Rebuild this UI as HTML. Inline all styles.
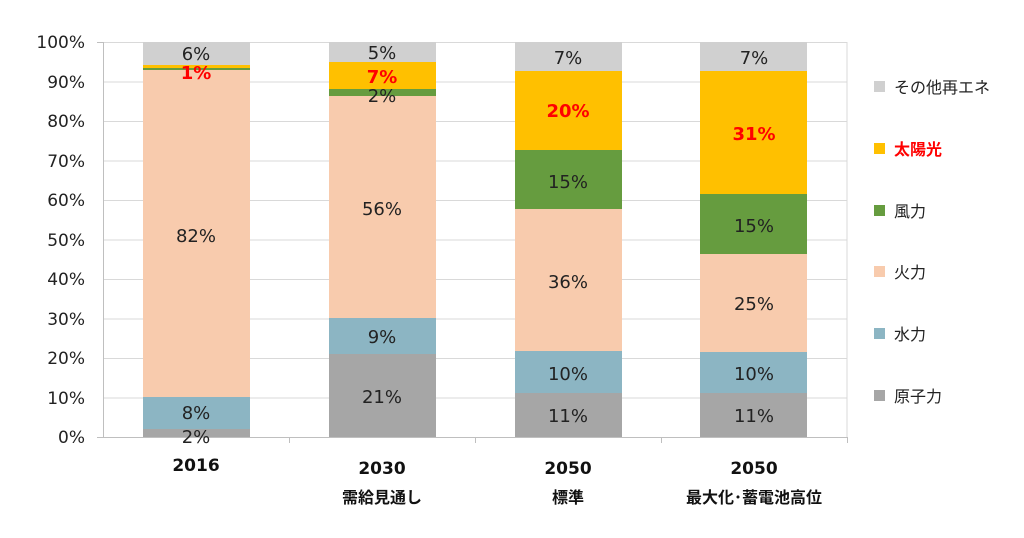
<!DOCTYPE html>
<html><head><meta charset="utf-8"><style>
body{margin:0;background:#fff;}
svg text{font-family:"DejaVu Sans","Liberation Sans","Noto Sans CJK JP",sans-serif;}
</style></head><body>
<svg width="1024" height="533" viewBox="0 0 1024 533" xmlns="http://www.w3.org/2000/svg">
<g stroke="#d9d9d9" stroke-width="1">
<line x1="103" y1="42.5" x2="847" y2="42.5"/><line x1="103" y1="82" x2="847" y2="82"/>
<line x1="103" y1="121.5" x2="847" y2="121.5"/><line x1="103" y1="161" x2="847" y2="161"/>
<line x1="103" y1="200.5" x2="847" y2="200.5"/><line x1="103" y1="240" x2="847" y2="240"/>
<line x1="103" y1="279.5" x2="847" y2="279.5"/><line x1="103" y1="319" x2="847" y2="319"/>
<line x1="103" y1="358.5" x2="847" y2="358.5"/><line x1="103" y1="398" x2="847" y2="398"/>
<line x1="847" y1="42" x2="847" y2="437"/>
</g>
<rect x="143" y="429" width="107" height="8" fill="#a6a6a6"/>
<rect x="143" y="397" width="107" height="32" fill="#8cb5c3"/>
<rect x="143" y="70" width="107" height="327" fill="#f8cbad"/>
<rect x="143" y="68" width="107" height="2" fill="#669c3f"/>
<rect x="143" y="65" width="107" height="3" fill="#ffc000"/>
<rect x="143" y="42" width="107" height="23" fill="#d0d0d0"/>
<rect x="329" y="354" width="107" height="83" fill="#a6a6a6"/>
<rect x="329" y="318" width="107" height="36" fill="#8cb5c3"/>
<rect x="329" y="96" width="107" height="222" fill="#f8cbad"/>
<rect x="329" y="89" width="107" height="7" fill="#669c3f"/>
<rect x="329" y="62" width="107" height="27" fill="#ffc000"/>
<rect x="329" y="42" width="107" height="20" fill="#d0d0d0"/>
<rect x="515" y="393" width="107" height="44" fill="#a6a6a6"/>
<rect x="515" y="351" width="107" height="42" fill="#8cb5c3"/>
<rect x="515" y="209" width="107" height="142" fill="#f8cbad"/>
<rect x="515" y="150" width="107" height="59" fill="#669c3f"/>
<rect x="515" y="71" width="107" height="79" fill="#ffc000"/>
<rect x="515" y="42" width="107" height="29" fill="#d0d0d0"/>
<rect x="700" y="393" width="107" height="44" fill="#a6a6a6"/>
<rect x="700" y="352" width="107" height="41" fill="#8cb5c3"/>
<rect x="700" y="254" width="107" height="98" fill="#f8cbad"/>
<rect x="700" y="194" width="107" height="60" fill="#669c3f"/>
<rect x="700" y="71" width="107" height="123" fill="#ffc000"/>
<rect x="700" y="42" width="107" height="29" fill="#d0d0d0"/>
<g stroke="#bfbfbf" stroke-width="1">
<line x1="103.5" y1="42" x2="103.5" y2="437"/>
<line x1="97" y1="437.5" x2="847" y2="437.5"/>
<line x1="97" y1="42.5" x2="103" y2="42.5"/>
<line x1="289.5" y1="437" x2="289.5" y2="443"/><line x1="475.5" y1="437" x2="475.5" y2="443"/>
<line x1="661.5" y1="437" x2="661.5" y2="443"/><line x1="847.5" y1="437" x2="847.5" y2="443"/>
</g>
<g font-size="17" fill="#222" text-anchor="end">
<text x="85" y="48">100%</text><text x="85" y="88">90%</text><text x="85" y="127">80%</text>
<text x="85" y="167">70%</text><text x="85" y="206">60%</text><text x="85" y="246">50%</text>
<text x="85" y="285">40%</text><text x="85" y="325">30%</text><text x="85" y="364">20%</text>
<text x="85" y="404">10%</text><text x="85" y="443">0%</text>
</g>
<g font-size="18" fill="#222" text-anchor="middle">
<text x="196" y="60">6%</text><text x="196" y="242">82%</text><text x="196" y="419">8%</text><text x="196" y="443">2%</text>
<text x="382" y="59">5%</text><text x="382" y="102">2%</text><text x="382" y="215">56%</text><text x="382" y="343">9%</text><text x="382" y="403">21%</text>
<text x="568" y="64">7%</text><text x="568" y="188">15%</text><text x="568" y="288">36%</text><text x="568" y="380">10%</text><text x="568" y="422">11%</text>
<text x="754" y="64">7%</text><text x="754" y="232">15%</text><text x="754" y="310">25%</text><text x="754" y="380">10%</text><text x="754" y="422">11%</text>
</g>
<g font-size="18" fill="#ff0000" font-weight="bold" text-anchor="middle">
<text x="196" y="79">1%</text><text x="382" y="83">7%</text><text x="568" y="117">20%</text><text x="754" y="140">31%</text>
</g>
<g font-size="17" fill="#111" font-weight="bold" text-anchor="middle">
<text x="196" y="471">2016</text>
<text x="382" y="474">2030</text><text x="382" y="503" font-size="16">需給見通し</text>
<text x="568" y="474">2050</text><text x="568" y="503" font-size="16">標準</text>
<text x="754" y="474">2050</text><text x="754" y="503" font-size="16">最大化･蓄電池高位</text>
</g>
<g font-size="16" fill="#222">
<rect x="874" y="81" width="11" height="11" fill="#d0d0d0"/><text x="894" y="93">その他再エネ</text>
<rect x="874" y="143" width="11" height="11" fill="#ffc000"/><text x="894" y="155" fill="#ff0000" font-weight="bold">太陽光</text>
<rect x="874" y="205" width="11" height="11" fill="#669c3f"/><text x="894" y="217">風力</text>
<rect x="874" y="266" width="11" height="11" fill="#f8cbad"/><text x="894" y="278">火力</text>
<rect x="874" y="328" width="11" height="11" fill="#8cb5c3"/><text x="894" y="340">水力</text>
<rect x="874" y="390" width="11" height="11" fill="#a6a6a6"/><text x="894" y="402">原子力</text>
</g>
</svg>
</body></html>
